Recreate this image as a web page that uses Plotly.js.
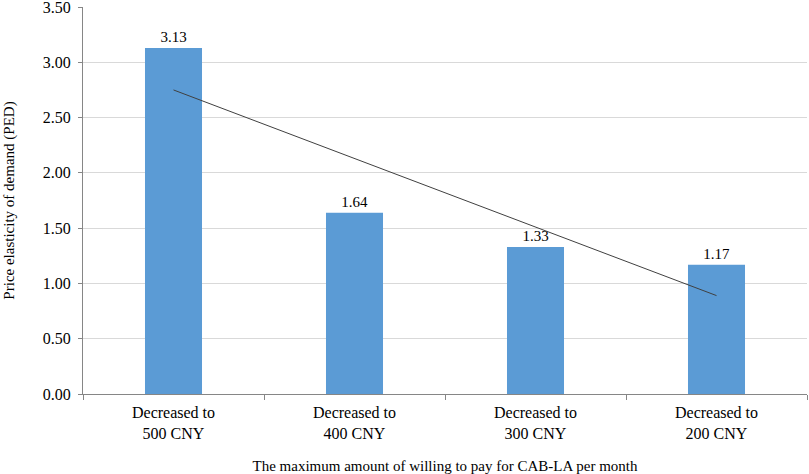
<!DOCTYPE html>
<html>
<head>
<meta charset="utf-8">
<script src="https://cdn.plot.ly/plotly-3.0.1.min.js"></script>
<style>
  html, body { margin: 0; padding: 0; background: #fff; }
  #chart { width: 809px; height: 474px; }
</style>
</head>
<body>
<div id="chart"></div>
<script>
// categories and values
var categories = ['Decreased to<br>500 CNY', 'Decreased to<br>400 CNY', 'Decreased to<br>300 CNY', 'Decreased to<br>200 CNY'];
var pedValues = [3.13, 1.64, 1.33, 1.17];
var labelText = ['3.13', '1.64', '1.33', '1.17'];

// linear trend line, ends
var trendCats = [categories[0], categories[3]];
var trendValues = [2.75, 0.89];

// y tick labels
var yTickVals = [0, 0.5, 1, 1.5, 2, 2.5, 3, 3.5];
var yTickText = ['0.00', '0.50', '1.00', '1.50', '2.00', '2.50', '3.00', '3.50'];

var serif = "'Liberation Serif', 'Times New Roman', Times, serif";

var bars = {
    type: 'bar',
    x: categories,
    y: pedValues,
    width: 0.315,
    marker: { color: '#5b9bd5' },
    text: labelText,
    textposition: 'outside',
    textfont: { family: serif, size: 15, color: '#000' },
    cliponaxis: false,
    hoverinfo: 'x+y'
};

var trend = {
    type: 'scatter',
    mode: 'lines',
    x: trendCats,
    y: trendValues,
    line: { color: '#404040', width: 1 },
    hoverinfo: 'skip'
};

var layout = {
    width: 809,
    height: 474,
    margin: { l: 83, r: 2, t: 7, b: 80 },
    showlegend: false,
    paper_bgcolor: '#fff',
    plot_bgcolor: '#fff',
    font: { family: serif, size: 15, color: '#000' },
    xaxis: {
        type: 'category',
        tickson: 'boundaries',
        ticks: 'outside',
        ticklen: 5,
        tickcolor: '#868686',
        ticklabelstandoff: 4,
        showline: true,
        linecolor: '#868686',
        linewidth: 1,
        showgrid: false,
        tickfont: { family: serif, size: 16 },
        title: { text: 'The maximum amount of willing to pay for CAB-LA per month', font: { family: serif, size: 15 }, standoff: 20 }
    },
    yaxis: {
        range: [0, 3.5001],
        tickvals: yTickVals,
        ticktext: yTickText,
        ticks: 'outside',
        ticklen: 4,
        tickcolor: '#868686',
        ticklabelstandoff: 4,
        ticklabeloverflow: 'allow',
        showline: true,
        linecolor: '#868686',
        linewidth: 1,
        gridcolor: '#d9d9d9',
        zeroline: false,
        tickfont: { family: serif, size: 16 },
        title: { text: 'Price elasticity of demand (PED)', font: { family: serif, size: 15 }, standoff: 24 }
    }
};

Plotly.newPlot('chart', [bars, trend], layout, { displayModeBar: false, staticPlot: true });
</script>
</body>
</html>
